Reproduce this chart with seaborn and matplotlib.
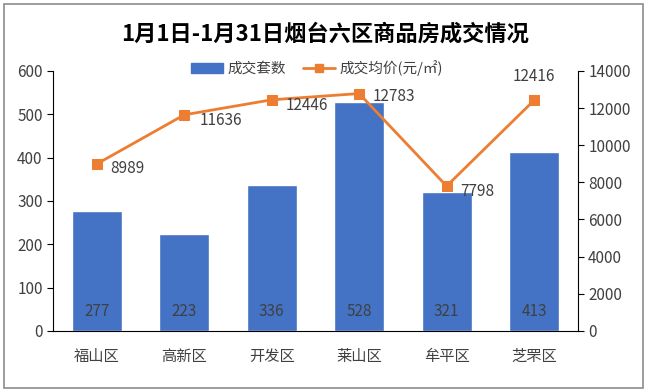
import matplotlib
matplotlib.use("Agg")
import matplotlib.pyplot as plt
import seaborn as sns
import pandas as pd
from matplotlib.lines import Line2D
from matplotlib.patches import Patch, Rectangle

# data
districts = ["福山区", "高新区", "开发区", "莱山区", "牟平区", "芝罘区"]
deals = [277, 223, 336, 528, 321, 413]
avg_price = [8989, 11636, 12446, 12783, 7798, 12416]

df = pd.DataFrame({"district": districts, "deals": deals, "price": avg_price})

sns.set_style("white")
plt.rcParams["font.family"] = ["Noto Sans CJK SC", "DejaVu Sans"]

blue = "#4472C4"
orange = "#ED7D31"
txt = "#404040"

fig = plt.figure(figsize=(6.47, 3.92), dpi=100)
ax = fig.add_axes([0.082, 0.156, 0.811, 0.663])

sns.barplot(data=df, x="district", y="deals", color=blue, width=0.57,
            saturation=1, ax=ax)
ax.set_ylim(0, 600)
ax.set_xlim(-0.5, 5.5)
ax.set_yticks(range(0, 601, 100))
ax.set_xlabel("")
ax.set_ylabel("")

# counts inside the bars, near the base
for i, v in enumerate(deals):
    ax.text(i, 44, str(v), ha="center", va="center", fontsize=11, color=txt)

ax2 = ax.twinx()
sns.lineplot(data=df, x="district", y="price", color=orange, marker="s",
             markersize=7, markeredgecolor=orange, linewidth=2, ax=ax2)
ax2.set_ylim(0, 14000)
ax2.set_yticks(range(0, 14001, 2000))
ax2.set_ylabel("")
ax2.set_xlim(-0.5, 5.5)

offsets = [(10, -3), (11, -4), (10, -4), (10, -2), (10, -4), (0, 17)]
for i, (v, off) in enumerate(zip(avg_price, offsets)):
    ha = "left" if off[0] else "center"
    ax2.annotate(str(v), (i, v), xytext=off, textcoords="offset points",
                 ha=ha, va="center", fontsize=11, color=txt)

for a in (ax, ax2):
    a.spines["top"].set_visible(False)
    for s in ("left", "right", "bottom"):
        a.spines[s].set_color("#000000")
        a.spines[s].set_linewidth(0.8)
    a.tick_params(axis="y", length=4, width=0.8, colors="#000000",
                  labelcolor=txt, labelsize=11)
ax.tick_params(axis="x", length=0, labelsize=11, labelcolor=txt, pad=12)
ax.spines["right"].set_visible(False)
ax2.spines["left"].set_visible(False)
ax2.spines["bottom"].set_visible(False)

handles = [Patch(facecolor=blue, edgecolor=blue, label="成交套数"),
           Line2D([0], [0], color=orange, lw=2, marker="s", markersize=6,
                  label="成交均价(元/㎡)")]
fig.legend(handles=handles, loc="center", bbox_to_anchor=(0.49, 0.827),
           ncol=2, frameon=False, fontsize=10.5, handlelength=2.2,
           columnspacing=1.2, handletextpad=0.3, labelcolor=txt)

fig.text(0.502, 0.914, "1月1日-1月31日烟台六区商品房成交情况", ha="center",
         va="center", fontsize=16, fontweight="bold", color="#000000")

fig.patches.append(Rectangle((0.006, 0.01), 0.988, 0.98, transform=fig.transFigure,
                             fill=False, edgecolor="#8c8c8c", linewidth=1.2))

fig.savefig("out.png", dpi=100)
